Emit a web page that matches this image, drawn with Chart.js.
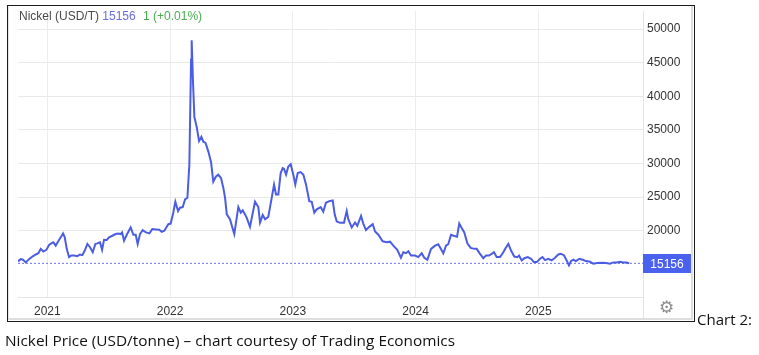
<!DOCTYPE html>
<html>
<head>
<meta charset="utf-8">
<script src="https://cdn.jsdelivr.net/npm/chart.js@4.4.1/dist/chart.umd.min.js"></script>
<style>
  html, body { margin: 0; padding: 0; background: #fff; }
  body { width: 759px; height: 355px; position: relative; overflow: hidden; font-family: 'Liberation Sans', Arial, sans-serif; }
  #frame { position: absolute; left: 7px; top: 5px; width: 686px; height: 315px; border: 1.5px solid #1c1c1c; box-sizing: content-box; }
  #panel { position: absolute; left: 8px; top: 6px; width: 682px; height: 312px; border-right: 2px solid #dedede; border-bottom: 2px solid #dedede; border-left: 1px solid #e4e4e4; }
  #wrap { position: absolute; left: 0; top: 0; width: 759px; height: 355px; }
  #title { position: absolute; left: 19px; top: 9px; font-size: 12px; line-height: 14px; color: #4a4a4a; white-space: nowrap; }
  #title .last { color: #6a6fdb; }
  #title .chg { color: #4cae50; margin-left: 4px; }
  #gear { position: absolute; left: 659px; top: 297px; font-family: 'DejaVu Sans', sans-serif; font-size: 17px; line-height: 20px; color: #8c8c8c; }
  .hand { position: absolute; font-family: 'Comic Sans MS', 'Open Sans', 'DejaVu Sans', sans-serif; color: #111; white-space: nowrap; transform-origin: 0 50%; }
  #caption { left: 5px; top: 330px; font-size: 15px; line-height: 20px; }
  #chartno { left: 697px; top: 309px; font-size: 15px; line-height: 20px; }
</style>
</head>
<body>
<div id="frame"></div>
<div id="panel"></div>
<div id="wrap"><canvas id="c" width="759" height="355"></canvas></div>
<div id="title">Nickel (USD/T) <span class="last">15156</span> <span class="chg">1 (+0.01%)</span></div>
<div id="gear">⚙</div>
<div id="caption" class="hand">Nickel Price (USD/tonne) – chart courtesy of Trading Economics</div>
<div id="chartno" class="hand">Chart 2:</div>
<script>
// Time in decimal years
const times = [
  2020.761, 2020.783, 2020.802, 2020.824, 2020.851, 2020.878, 2020.906, 2020.927, 2020.946, 2020.967,
  2020.992, 2021.014, 2021.033, 2021.049, 2021.068, 2021.095, 2021.117, 2021.128, 2021.142, 2021.158,
  2021.177, 2021.196, 2021.218, 2021.244, 2021.266, 2021.285, 2021.305, 2021.326, 2021.348, 2021.370,
  2021.391, 2021.407, 2021.429, 2021.446, 2021.462, 2021.484, 2021.503, 2021.530, 2021.557, 2021.578,
  2021.598, 2021.609, 2021.625, 2021.647, 2021.679, 2021.701, 2021.720, 2021.736, 2021.755, 2021.777,
  2021.804, 2021.831, 2021.855, 2021.886, 2021.912, 2021.932, 2021.953, 2021.986, 2022.005, 2022.026,
  2022.043, 2022.065, 2022.081, 2022.103, 2022.122, 2022.141, 2022.157, 2022.171, 2022.176, 2022.187,
  2022.198, 2022.217, 2022.236, 2022.255, 2022.271, 2022.289, 2022.312, 2022.334, 2022.352, 2022.374,
  2022.393, 2022.415, 2022.434, 2022.448, 2022.462, 2022.488, 2022.523, 2022.556, 2022.576, 2022.592,
  2022.624, 2022.651, 2022.692, 2022.719, 2022.733, 2022.755, 2022.774, 2022.800, 2022.828, 2022.847,
  2022.863, 2022.882, 2022.901, 2022.918, 2022.928, 2022.945, 2022.963, 2022.983, 2023.004, 2023.020,
  2023.040, 2023.064, 2023.086, 2023.108, 2023.134, 2023.154, 2023.175, 2023.195, 2023.227, 2023.248,
  2023.270, 2023.297, 2023.325, 2023.341, 2023.358, 2023.385, 2023.417, 2023.439, 2023.452, 2023.480,
  2023.507, 2023.525, 2023.556, 2023.574, 2023.596, 2023.623, 2023.651, 2023.670, 2023.697, 2023.732,
  2023.765, 2023.792, 2023.819, 2023.851, 2023.881, 2023.900, 2023.922, 2023.941, 2023.963, 2023.996,
  2024.022, 2024.050, 2024.071, 2024.096, 2024.126, 2024.159, 2024.185, 2024.199, 2024.226, 2024.248,
  2024.267, 2024.289, 2024.311, 2024.338, 2024.356, 2024.376, 2024.397, 2024.422, 2024.449, 2024.479,
  2024.498, 2024.525, 2024.552, 2024.574, 2024.598, 2024.620, 2024.639, 2024.661, 2024.688, 2024.715,
  2024.734, 2024.756, 2024.778, 2024.804, 2024.829, 2024.843, 2024.865, 2024.886, 2024.914, 2024.941,
  2024.963, 2024.987, 2025.014, 2025.034, 2025.055, 2025.082, 2025.109, 2025.136, 2025.163, 2025.183,
  2025.209, 2025.231, 2025.250, 2025.266, 2025.285, 2025.307, 2025.334, 2025.362, 2025.389, 2025.421,
  2025.448, 2025.481, 2025.517, 2025.552, 2025.584, 2025.611, 2025.639, 2025.666, 2025.692, 2025.720,
  2025.741
];
// Nickel price, USD/tonne
const prices = [
  15440, 15780, 15690, 15290, 15780, 16170, 16470, 16660, 17310, 16910,
  17160, 17890, 18130, 18280, 17790, 18630, 19260, 19600, 19020, 17310,
  16080, 16320, 16320, 16220, 16470, 16370, 17060, 18040, 17550, 16810,
  18040, 18130, 18280, 17160, 18660, 18630, 19020, 19260, 19510, 19600,
  19510, 19750, 18530, 19410, 20490, 19410, 19410, 18040, 19510, 20100,
  19750, 19600, 20250, 20190, 20150, 19850, 20000, 20980, 21070, 22690,
  24310, 22940, 23430, 23520, 24660, 24900, 29810, 45480, 48340, 42060,
  36910, 35440, 33340, 33970, 33240, 33060, 31770, 30180, 27300, 28080,
  28340, 27840, 26370, 24900, 22450, 21720, 19510, 23520, 22690, 23040,
  21960, 20580, 24310, 23520, 21220, 22350, 21720, 22050, 24900, 26860,
  25390, 25390, 28580, 29310, 29230, 28340, 29560, 29900, 28340, 26860,
  28580, 28720, 28340, 26860, 24410, 24310, 22690, 23190, 23520, 22840,
  24160, 24410, 24510, 22450, 21370, 21180, 21180, 22940, 21720, 20490,
  21220, 20730, 22200, 21070, 20100, 20580, 20980, 19900, 19410, 18430,
  18280, 18380, 17790, 17160, 15980, 16810, 16660, 16960, 16320, 16320,
  16080, 16660, 15980, 15690, 17310, 17790, 17990, 17550, 16660, 17790,
  18040, 19410, 19260, 19110, 21070, 20400, 19750, 18130, 17450, 17310,
  17310, 16560, 15920, 16320, 16320, 16560, 16810, 16080, 16080, 16810,
  17450, 18040, 17060, 16170, 16080, 16320, 15590, 15920, 16080, 15840,
  15340, 15340, 15840, 16080, 15630, 15840, 15590, 15980, 16470, 16560,
  16370, 15590, 14850, 15490, 15690, 15490, 15840, 15690, 15490, 15390,
  15100, 15190, 15240, 15190, 15100, 15290, 15290, 15390, 15290, 15290,
  15156
];
const yearTicks = ['2021', '2022', '2023', '2024', '2025'];
const yTickValues = [20000, 25000, 30000, 35000, 40000, 45000, 50000];
const lastPrice = 15156;

const X_MIN = 2020.761, X_MAX = 2025.853;
const Y_MIN = 10150, Y_MAX = 52650;
const FONT = "'Liberation Sans', Arial, sans-serif";

const lastLabel = {
  id: 'lastLabel',
  afterDatasetsDraw(chart) {
    const { ctx, scales } = chart;
    const y = scales.y.getPixelForValue(lastPrice);
    const x0 = scales.y.left;
    ctx.save();
    ctx.fillStyle = '#4a60ef';
    ctx.fillRect(x0, Math.round(y - 9), 48, 19);
    ctx.fillStyle = '#ffffff';
    ctx.font = '12px ' + FONT;
    ctx.textAlign = 'center';
    ctx.textBaseline = 'middle';
    ctx.fillText(String(lastPrice), x0 + 24, y + 1);
    ctx.strokeStyle = '#e4e4e4';
    ctx.lineWidth = 1;
    ctx.beginPath();
    ctx.moveTo(x0 + 0.5, chart.chartArea.bottom);
    ctx.lineTo(x0 + 0.5, 318);
    ctx.stroke();
    ctx.restore();
  }
};

new Chart(document.getElementById('c'), {
  type: 'line',
  data: {
    datasets: [
      {
        data: times.map((t, i) => ({ x: t, y: prices[i] })),
        borderColor: '#4b5de2',
        borderWidth: 2,
        pointRadius: 0,
        tension: 0,
        fill: false
      },
      {
        data: [{ x: X_MIN, y: lastPrice }, { x: X_MAX, y: lastPrice }],
        borderColor: '#6b73e3',
        borderWidth: 1,
        borderDash: [2, 2],
        pointRadius: 0,
        fill: false
      }
    ]
  },
  options: {
    responsive: false,
    animation: false,
    events: [],
    layout: { padding: { left: 18, top: 8, right: 0, bottom: 0 } },
    plugins: { legend: { display: false }, tooltip: { enabled: false } },
    scales: {
      x: {
        type: 'linear',
        min: X_MIN,
        max: X_MAX,
        afterFit(scale) { scale.height = 58; },
        afterBuildTicks(scale) {
          scale.ticks = yearTicks.map(v => ({ value: Number(v) }));
        },
        grid: { color: '#ededed', lineWidth: 1, drawTicks: false },
        border: { display: true, color: '#e4e4e4' },
        ticks: {
          padding: 7,
          color: '#333',
          font: { family: FONT, size: 12 },
          maxRotation: 0,
          autoSkip: false,
          callback: (v) => yearTicks.find(t => Number(t) === v) || ''
        }
      },
      y: {
        position: 'right',
        min: Y_MIN,
        max: Y_MAX,
        afterFit(scale) { scale.width = 116; },
        afterBuildTicks(scale) {
          scale.ticks = yTickValues.map(v => ({ value: v }));
        },
        grid: { color: '#e9e9e9', lineWidth: 1, drawTicks: false },
        border: { display: true, color: '#e4e4e4' },
        ticks: {
          padding: 4,
          color: '#333',
          font: { family: FONT, size: 12 },
          callback: (v) => String(v)
        }
      }
    }
  },
  plugins: [lastLabel]
});

function fit(id, w) {
  const el = document.getElementById(id);
  const r = el.getBoundingClientRect();
  el.style.transform = 'scaleX(' + (w / r.width) + ')';
}
fit('caption', 450);
fit('chartno', 55);
</script>
</body>
</html>
